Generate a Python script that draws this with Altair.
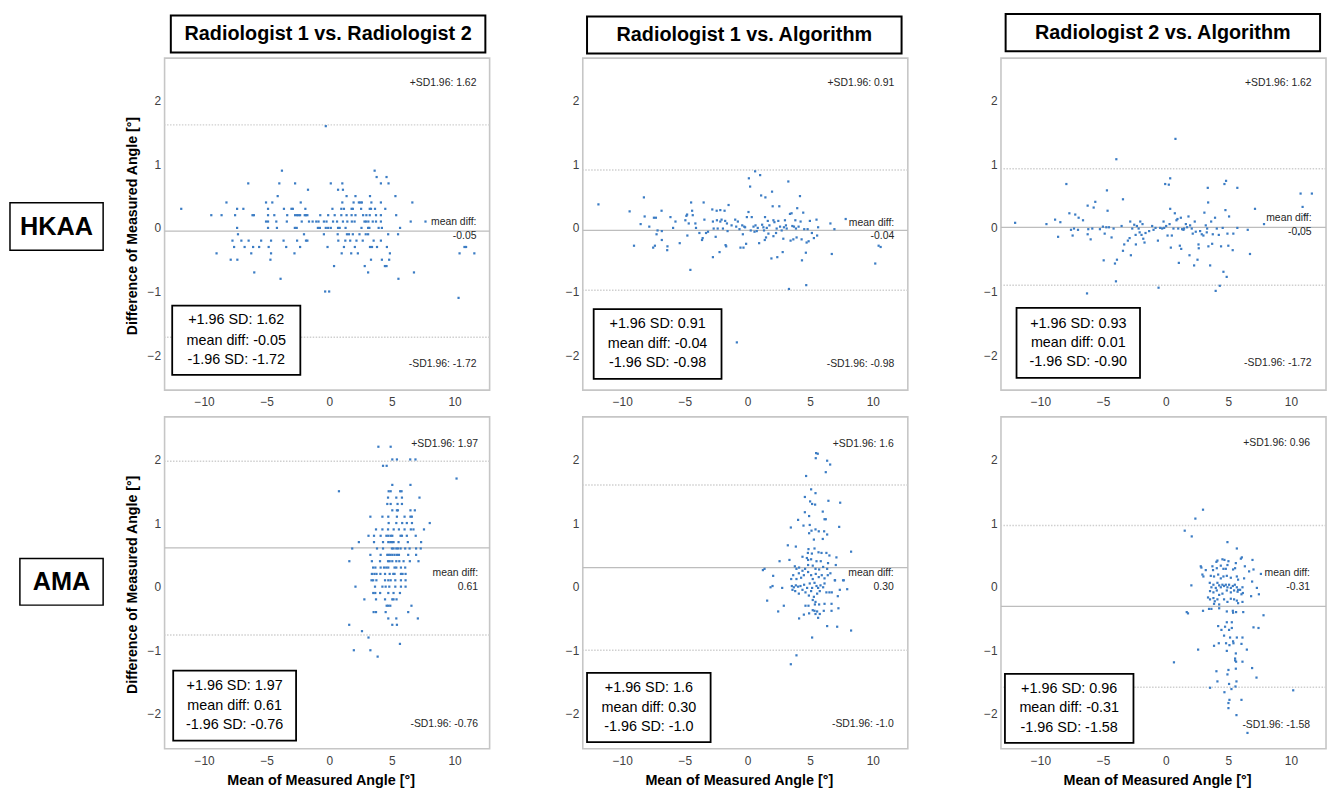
import altair as alt
import pandas as pd

# ------------------------------------------------------------------ values
col_titles = ["Radiologist 1 vs. Radiologist 2", "Radiologist 1 vs. Algorithm", "Radiologist 2 vs. Algorithm"]
row_titles = ["HKAA", "AMA"]
x_title = "Mean of Measured Angle [°]"
y_title = "Difference of Measured Angle [°]"
x_ticks = [-10, -5, 0, 5, 10]
y_ticks = [-2, -1, 0, 1, 2]

# reference lines (upper LoA, mean, lower LoA) as drawn
hkaa_lines = [[1.62, -0.05, -1.72], [0.91, -0.04, -0.98], [0.93, 0.01, -0.90]]
ama_lines = [[1.97, 0.61, -0.76], [1.6, 0.30, -1.0], [0.96, -0.31, -1.58]]

# small texts at the right side: upper, mean value, lower
hkaa_side = [["+SD1.96: 1.62", "-0.05", "-SD1.96: -1.72"],
             ["+SD1.96: 0.91", "-0.04", "-SD1.96: -0.98"],
             ["+SD1.96: 1.62", "-0.05", "-SD1.96: -1.72"]]
ama_side = [["+SD1.96: 1.97", "0.61", "-SD1.96: -0.76"],
            ["+SD1.96: 1.6", "0.30", "-SD1.96: -1.0"],
            ["+SD1.96: 0.96", "-0.31", "-SD1.96: -1.58"]]

# boxed summaries
hkaa_box = [["+1.96 SD: 1.62", "mean diff: -0.05", "-1.96 SD: -1.72"],
            ["+1.96 SD: 0.91", "mean diff: -0.04", "-1.96 SD: -0.98"],
            ["+1.96 SD: 0.93", "mean diff: 0.01", "-1.96 SD: -0.90"]]
ama_box = [["+1.96 SD: 1.97", "mean diff: 0.61", "-1.96 SD: -0.76"],
           ["+1.96 SD: 1.6", "mean diff: 0.30", "-1.96 SD: -1.0"],
           ["+1.96 SD: 0.96", "mean diff: -0.31", "-1.96 SD: -1.58"]]

# HKAA, radiologist 1 vs radiologist 2 : difference -> list of means
hkaa_r1_r2 = {
    1.6: [-0.28],
    0.9: [3.62, -3.78],
    0.8: [3.78, 4.57],
    0.7: [-6.47, -3.99, -2.73, 0.12, 1.04, 4.12, 4.73],
    0.6: [-1.70, 0.70, 1.09],
    0.5: [-4.12, 1.38, 2.09, 3.25, 5.28],
    0.4: [-8.21, -5.05, -4.55, -2.28, 1.04, 1.94, 2.36, 2.49, 2.60, 3.36, 4.12, 6.63],
    0.3: [-11.82, -7.36, -6.86, -4.89, -3.62, -3.02, -2.91, -1.91, 0.25, 0.96, 1.17, 1.78, 1.88, 2.54, 3.23, 3.33, 3.65, 4.47],
    0.2: [-9.42, -8.60, -7.52, -6.13, -6.02, -4.89, -4.39, -3.36, -2.73, -2.57, -2.46, -2.33, -1.96, -1.86, -1.75, -0.72, -0.09, 0.43, 0.96, 1.38, 1.78, 2.09, 2.70, 2.96, 3.23, 3.73, 4.12, 5.34],
    0.1: [-5.05, -4.89, -4.23, -3.39, -2.20, -1.62, -1.33, -1.04, -0.86, -0.43, -0.22, 0.30, 0.62, 1.09, 1.44, 1.80, 2.02, 2.81, 2.94, 3.12, 3.47, 3.73, 4.12, 6.50, 7.68],
    0.0: [-7.36, -4.89, -4.18, -2.75, -2.60, -0.91, -0.75, -0.28, -0.09, 0.12, 0.70, 0.83, 1.30, 2.57, 3.10, 3.20, 3.94, 4.20, 5.65],
    -0.1: [-7.29, -2.02, -0.43, 0.67, 1.41, 1.57, 1.88, 2.41, 2.91, 3.10, 4.70, 5.49],
    -0.2: [-7.73, -7.02, -6.44, -5.44, -4.65, -3.65, -2.57, -1.86, -1.75, 0.72, 1.28, 1.67, 2.17, 2.67, 3.54, 4.12],
    -0.3: [-7.60, -6.76, -6.08, -5.60, -4.84, -3.44, -2.33, -0.14, 1.17, 2.04, 3.25, 3.41, 3.81, 4.60, 10.79, 10.92],
    -0.4: [-9.00, -6.23, -4.65, -2.78, 0.99, 1.75, 2.28, 4.84, 10.40, 11.58],
    -0.5: [-7.87, -7.34, -4.70, 3.33, 4.20, 4.78],
    -0.6: [0.38, 2.83, 4.44, 4.57],
    -0.7: [-5.99, 3.10, 6.76],
    -0.8: [-3.89, 5.52],
    -1.0: [-0.33, -0.01],
    -1.1: [10.32],
}

# HKAA, radiologist 1 vs algorithm : (mean, difference)
hkaa_r1_alg = [
    (-11.90, 0.37), (-9.41, 0.26), (-9.06, -0.28), (-8.53, 0.06), (-8.27, 0.48), (-8.21, 0.18), (-7.84, 0.02),
    (-7.53, -0.31), (-7.47, 0.16), (-7.39, -0.28), (-7.31, 0.16), (-7.26, -0.10), (-7.18, -0.04), (-6.84, -0.05),
    (-6.84, -0.19), (-6.86, 0.27), (-6.41, -0.35), (-6.39, -0.29), (-6.15, 0.17), (-5.94, 0.00), (-5.75, 0.10),
    (-5.41, -0.24), (-4.96, 0.12), (-4.88, 0.19), (-4.82, 0.21), (-4.80, -0.12), (-4.69, 0.07), (-4.56, -0.66),
    (-4.50, 0.40), (-4.42, 0.27), (-4.37, 0.20), (-4.16, 0.07), (-4.11, 0.00), (-3.84, -0.08), (-3.63, -0.19),
    (-3.58, -0.16), (-3.50, 0.40), (-3.44, 0.13), (-3.31, -0.08), (-3.15, -0.06), (-2.81, 0.29), (-2.76, -0.46),
    (-2.76, 0.10), (-2.70, -0.01), (-2.54, -0.14), (-2.46, 0.27), (-2.44, 0.12), (-2.38, -0.01), (-2.23, -0.38),
    (-2.17, 0.28), (-2.17, 0.10), (-2.07, 0.13), (-1.96, -0.01), (-1.83, 0.27), (-1.78, 0.11), (-1.75, -0.27),
    (-1.70, -0.29), (-1.64, 0.07), (-1.59, -0.05), (-1.51, 0.36), (-1.27, 0.04), (-0.98, 0.13), (-0.90, 0.02),
    (-0.77, 0.10), (-0.64, -0.02), (-0.56, -0.31), (-0.42, 0.04), (-0.37, -0.10), (-0.32, -0.31), (-0.26, 0.02),
    (-0.19, 0.01), (-0.11, -0.25), (-0.05, 0.17), (0.08, 0.25), (0.11, 0.78), (0.21, 0.65), (0.26, -0.04),
    (0.34, 0.17), (0.48, 0.02), (0.56, -0.06), (0.61, 0.89), (0.64, 0.04), (0.74, -0.05), (0.82, 0.00),
    (0.93, -0.24), (1.01, 0.83), (1.09, 0.51), (1.17, 0.05), (1.27, 0.01), (1.32, -0.04), (1.38, -0.19),
    (1.40, 0.17), (1.43, 0.48), (1.48, -0.15), (1.54, 0.00), (1.62, 0.11), (1.67, -0.09), (1.75, 0.04),
    (1.91, -0.48), (1.96, 0.57), (2.01, 0.34), (2.07, -0.13), (2.07, 0.12), (2.15, 0.09), (2.28, -0.08),
    (2.33, -0.01), (2.38, -0.46), (2.46, 0.11), (2.54, 0.34), (2.60, 0.02), (2.73, -0.04), (2.81, -0.38),
    (2.86, -0.17), (2.91, 0.01), (2.99, 0.12), (3.07, 0.04), (3.13, -0.01), (3.26, 0.73), (3.31, -0.96),
    (3.39, 0.22), (3.44, -0.20), (3.52, 0.23), (3.58, 0.03), (3.66, -0.18), (3.71, 0.02), (3.82, 0.12),
    (3.87, -0.01), (3.92, -0.15), (3.97, 0.31), (4.08, 0.02), (4.19, 0.50), (4.24, 0.10), (4.32, -0.18),
    (4.35, -0.51), (4.45, 0.24), (4.53, -0.02), (4.66, -0.39), (4.69, -0.90), (4.72, -0.23), (4.80, -0.02),
    (4.88, -0.21), (4.98, 0.11), (5.14, -0.08), (5.30, -0.16), (5.51, 0.13), (5.56, -0.12), (5.64, 0.01),
    (6.62, 0.07), (6.73, -0.41), (6.94, -0.02), (7.84, 0.14), (10.20, -0.56), (10.47, -0.28), (10.63, -0.30),
    (-0.85, -1.80),
]

# HKAA, radiologist 2 vs algorithm : (mean, difference)
hkaa_r2_alg = [
    (-12.02, 0.08), (-9.52, 0.06), (-8.83, 0.13), (-8.59, -0.14), (-8.41, 0.09), (-7.93, 0.69), (-7.69, 0.23),
    (-7.56, -0.03), (-7.43, -0.12), (-7.32, -0.01), (-7.22, 0.21), (-7.00, -0.03), (-6.95, 0.16), (-6.60, 0.12),
    (-6.23, 0.35), (-6.23, -0.10), (-6.18, -0.02), (-5.99, -0.18), (-5.86, -0.01), (-5.75, 0.32), (-5.62, 0.41),
    (-5.25, -0.02), (-5.01, 0.02), (-4.95, -0.51), (-4.87, -0.09), (-4.74, 0.01), (-4.69, 0.59), (-4.64, 0.27),
    (-4.53, 0.01), (-4.32, -0.15), (-4.16, -0.01), (-4.05, -0.56), (-3.97, -0.84), (-3.89, -0.50), (-3.94, 1.08),
    (-3.52, 0.03), (-3.41, 0.45), (-3.41, -0.36), (-3.31, -0.26), (-3.02, -0.20), (-2.88, -0.16), (-2.83, 0.10),
    (-2.78, -0.43), (-2.67, -0.01), (-2.51, 0.05), (-2.40, -0.11), (-2.38, -0.26), (-2.30, 0.03), (-2.16, -0.01),
    (-2.08, -0.07), (-2.03, 0.10), (-1.93, -0.11), (-1.85, 0.06), (-1.79, -0.17), (-1.69, -0.23), (-1.61, -0.08),
    (-1.32, -0.05), (-1.08, 0.03), (-0.97, -0.03), (-0.81, 0.00), (-0.62, -0.20), (-0.57, -0.94), (-0.44, 0.00),
    (-0.28, -0.01), (-0.17, 0.10), (-0.12, 0.00), (-0.04, 0.69), (0.04, 0.03), (0.15, -0.12), (0.25, 0.68),
    (0.31, 0.06), (0.36, 0.78), (0.36, 0.30), (0.41, -0.31), (0.49, -0.12), (0.62, -0.01), (0.73, 0.23),
    (0.78, 1.40), (0.86, 0.12), (0.94, 0.14), (1.00, -0.01), (1.05, -0.55), (1.13, -0.28), (1.21, 0.16),
    (1.24, -0.33), (1.31, -0.02), (1.42, -0.03), (1.47, -0.01), (1.61, 0.06), (1.71, 0.01), (1.82, 0.18),
    (1.90, -0.43), (1.95, 0.04), (2.08, -0.01), (2.16, -0.09), (2.27, -0.59), (2.32, 0.10), (2.40, -0.06),
    (2.54, -0.50), (2.62, -0.26), (2.64, -0.32), (2.75, -0.05), (2.88, -0.10), (3.01, -0.12), (3.09, 0.24),
    (3.20, 0.04), (3.28, -0.07), (3.31, -0.01), (3.36, 0.63), (3.39, 0.40), (3.41, -0.29), (3.55, -0.59),
    (3.63, 0.10), (3.71, -0.25), (3.76, -0.10), (3.94, 0.16), (3.99, -0.99), (4.08, -0.01), (4.24, -0.11),
    (4.32, -0.91), (4.42, -0.29), (4.55, 0.00), (4.61, -0.69), (4.69, 0.69), (4.77, 0.28), (4.82, 0.74),
    (4.87, -0.77), (4.93, -0.09), (5.00, -0.28), (5.06, 0.18), (5.35, -0.35), (5.40, -0.09), (5.72, 0.63),
    (5.72, 0.00), (6.55, -0.03), (6.73, -0.41), (7.13, 0.30), (7.85, 0.06), (10.77, 0.54), (10.93, 0.33),
    (11.09, 0.20), (11.67, 0.54), (-6.28, -1.03), (10.64, -0.10),
]

# AMA, radiologist 1 vs radiologist 2 : difference -> list of means
ama_r1_r2 = {
    2.2: [3.92, 4.90],
    2.0: [5.03, 5.40, 6.46, 6.88],
    1.9: [4.29, 4.58],
    1.7: [10.16],
    1.6: [5.03, 6.48],
    1.5: [0.77, 4.74, 4.90, 5.66, 5.77],
    1.4: [4.69, 5.35, 5.80, 7.20],
    1.3: [4.63, 4.90, 5.45, 5.80],
    1.2: [5.03, 5.40, 5.48, 6.48, 6.83],
    1.1: [3.28, 4.24, 4.71, 5.40, 6.01, 6.48, 6.59],
    1.0: [4.74, 5.35, 5.82, 6.19, 6.60, 8.02],
    0.9: [3.73, 4.24, 4.69, 5.14, 5.56, 6.01, 6.51, 6.72, 7.56],
    0.8: [3.13, 3.57, 4.10, 4.56, 4.71, 4.90, 5.03, 5.69, 5.80, 6.19, 6.90],
    0.7: [2.36, 3.57, 4.29, 4.71, 4.87, 5.00, 5.13, 5.53, 6.27, 7.33],
    0.6: [1.83, 3.81, 4.29, 5.00, 5.13, 5.35, 5.48, 5.69, 6.06, 6.41, 6.93, 7.30],
    0.5: [3.28, 4.10, 4.63, 4.74, 4.87, 5.03, 5.21, 5.40, 5.56, 6.30, 6.93],
    0.4: [1.60, 3.40, 4.05, 4.69, 4.82, 5.03, 5.35, 5.59, 5.93, 6.43, 7.12],
    0.3: [3.50, 3.68, 4.10, 4.37, 4.55, 4.71, 5.21, 5.35, 5.72, 6.06],
    0.2: [3.40, 3.60, 3.77, 4.08, 4.45, 4.82, 5.11, 5.21, 5.72, 5.85, 6.09],
    0.1: [3.37, 3.50, 3.76, 4.45, 4.71, 4.90, 5.27, 5.72, 6.09],
    0.0: [2.09, 3.65, 4.24, 4.50, 4.79, 5.27, 5.72, 6.09],
    -0.1: [3.51, 3.67, 4.06, 4.71, 5.13, 5.64],
    -0.2: [2.80, 3.73, 4.45, 5.03, 5.13, 5.37],
    -0.3: [4.58, 4.71, 4.87, 6.56],
    -0.4: [3.54, 3.73, 4.50, 6.30],
    -0.5: [4.71, 5.35, 7.07],
    -0.6: [1.59, 5.03, 5.40],
    -0.7: [2.61],
    -0.8: [3.13],
    -0.9: [5.64],
    -1.0: [1.96, 3.28],
    -1.1: [3.86],
}

# AMA, radiologist 1 vs algorithm : (mean, difference)
ama_r1_alg = [
    (5.48, 2.10), (5.61, 2.09), (5.45, 2.02), (6.36, 1.98), (6.60, 1.92), (6.25, 1.80), (4.68, 1.74),
    (5.08, 1.53), (5.43, 1.47), (4.58, 1.41), (5.00, 1.34), (5.16, 1.30), (5.40, 1.29), (6.46, 1.35),
    (7.40, 1.32), (4.58, 1.17), (4.04, 1.05), (4.92, 1.11), (6.01, 1.18), (6.15, 1.06), (6.25, 1.06),
    (3.46, 0.93), (4.47, 0.96), (4.97, 0.97), (5.11, 0.88), (4.92, 0.84), (5.43, 0.90), (5.69, 0.87),
    (6.12, 0.87), (6.36, 0.82), (6.01, 0.75), (5.30, 0.74), (7.32, 0.94), (3.22, 0.65), (3.86, 0.63),
    (4.87, 0.59), (5.35, 0.60), (4.82, 0.53), (5.14, 0.52), (5.67, 0.54), (5.91, 0.53), (6.30, 0.53),
    (6.54, 0.49), (7.10, 0.46), (8.27, 0.55), (2.56, 0.40), (3.35, 0.42), (4.39, 0.47), (4.74, 0.45),
    (4.84, 0.42), (5.08, 0.43), (5.51, 0.40), (5.85, 0.40), (6.43, 0.37), (7.05, 0.34), (1.36, 0.28),
    (1.23, 0.26), (2.05, 0.17), (3.78, 0.32), (3.91, 0.28), (4.12, 0.30), (4.39, 0.25), (4.60, 0.28),
    (4.84, 0.34), (5.21, 0.33), (5.43, 0.28), (5.72, 0.27), (6.04, 0.31), (6.36, 0.28), (6.62, 0.21),
    (6.99, 0.10), (7.63, 0.10), (1.84, -0.01), (2.00, 0.01), (2.77, -0.02), (1.57, -0.22), (2.90, -0.30),
    (2.45, -0.39), (3.49, 0.12), (3.65, 0.18), (3.91, 0.12), (4.10, 0.21), (4.28, 0.14), (4.50, 0.18),
    (4.84, 0.23), (5.08, 0.18), (5.21, 0.12), (5.45, 0.20), (5.69, 0.15), (5.93, 0.18), (6.15, 0.13),
    (6.41, 0.18), (3.54, 0.01), (3.70, -0.01), (3.86, 0.02), (4.04, 0.00), (4.23, 0.01), (4.52, 0.03),
    (4.76, -0.02), (4.97, 0.05), (5.16, -0.02), (5.35, 0.06), (5.51, 0.01), (5.64, -0.02), (5.83, 0.02),
    (6.04, -0.01), (6.15, 0.05), (3.59, -0.05), (3.81, -0.07), (4.10, -0.11), (4.39, -0.05), (4.63, -0.09),
    (4.90, -0.14), (5.08, -0.07), (5.30, -0.16), (5.56, -0.11), (5.77, -0.07), (6.30, -0.09), (6.54, -0.09),
    (6.73, -0.09), (6.97, 0.10), (7.37, -0.05), (7.69, 0.10), (7.96, -0.04), (7.21, -0.15), (5.21, -0.21),
    (5.43, -0.24), (5.38, -0.28), (4.87, -0.30), (5.72, -0.28), (6.15, -0.27), (6.71, -0.27), (4.92, -0.42),
    (5.21, -0.37), (5.56, -0.39), (6.09, -0.38), (4.50, -0.44), (4.63, -0.30), (4.12, -0.50), (5.35, -0.38),
    (5.43, -0.43), (5.64, -0.49), (5.77, -0.43), (6.71, -0.38), (7.26, -0.34), (6.36, -0.62), (7.16, -0.63),
    (8.27, -0.69), (5.16, -0.80), (3.91, -1.08), (3.46, -1.22),
]

# AMA, radiologist 2 vs algorithm : (mean, difference)
ama_r2_alg = [
    (2.98, 1.21), (2.37, 1.07), (1.52, 0.88), (2.08, 0.79), (4.93, 0.70), (5.68, 0.60), (4.13, 0.41),
    (4.05, 0.39), (4.53, 0.43), (4.69, 0.42), (5.01, 0.40), (6.00, 0.44), (6.08, 0.46), (6.93, 0.42),
    (2.80, 0.32), (2.85, 0.30), (3.20, 0.26), (3.73, 0.32), (3.78, 0.26), (4.08, 0.29), (4.40, 0.33),
    (4.61, 0.28), (4.80, 0.28), (4.93, 0.34), (5.38, 0.27), (5.54, 0.29), (5.60, 0.37), (6.32, 0.32),
    (6.66, 0.24), (7.01, 0.27), (2.93, 0.19), (3.01, 0.16), (3.60, 0.17), (3.86, 0.16), (4.19, 0.19),
    (4.40, 0.13), (4.61, 0.16), (4.88, 0.17), (5.20, 0.14), (5.68, 0.16), (5.78, 0.11), (6.26, 0.13),
    (6.90, 0.08), (7.60, 0.20), (2.05, 0.02), (3.52, 0.06), (3.65, -0.01), (3.81, 0.03), (4.00, -0.02),
    (4.13, 0.06), (4.27, 0.02), (4.40, -0.01), (4.53, 0.03), (4.66, 0.01), (4.80, 0.03), (4.93, -0.01),
    (5.06, 0.03), (5.20, -0.02), (5.36, 0.01), (5.52, 0.03), (5.68, -0.01), (5.78, -0.05), (6.13, -0.01),
    (6.16, -0.10), (7.28, -0.02), (3.54, -0.07), (3.81, -0.09), (4.08, -0.06), (4.27, -0.13), (4.53, -0.11),
    (4.88, -0.06), (5.20, -0.09), (5.46, -0.06), (5.74, -0.08), (5.94, -0.05), (6.05, -0.12), (6.82, -0.15),
    (7.44, -0.12), (3.38, -0.17), (3.54, -0.20), (3.81, -0.18), (3.92, -0.23), (4.13, -0.20), (4.66, -0.20),
    (5.20, -0.19), (5.46, -0.20), (5.68, -0.22), (5.78, -0.26), (6.13, -0.24), (3.86, -0.27), (4.27, -0.28),
    (4.93, -0.24), (1.68, -0.40), (1.78, -0.42), (2.98, -0.38), (3.46, -0.35), (3.65, -0.35), (4.27, -0.34),
    (4.88, -0.39), (5.36, -0.38), (5.38, -0.41), (5.62, -0.40), (6.19, -0.40), (7.81, -0.45), (4.88, -0.56),
    (5.28, -0.56), (4.19, -0.62), (4.45, -0.68), (4.74, -0.63), (4.66, -0.77), (5.28, -0.65), (5.06, -0.68),
    (7.01, -0.64), (7.41, -0.65), (5.14, -0.80), (5.38, -0.86), (5.68, -0.80), (6.13, -0.80), (3.86, -0.93),
    (4.24, -0.89), (4.82, -0.89), (5.09, -0.92), (5.41, -0.89), (6.05, -0.90), (2.59, -0.99), (4.88, -1.01),
    (5.60, -1.05), (6.48, -0.99), (5.54, -1.13), (5.54, -1.16), (5.62, -1.18), (6.13, -1.18), (0.66, -1.19),
    (4.05, -1.33), (5.01, -1.31), (5.60, -1.29), (6.90, -1.28), (4.93, -1.38), (7.25, -1.43), (4.13, -1.49),
    (5.06, -1.53), (5.65, -1.49), (3.54, -1.59), (4.69, -1.66), (5.25, -1.61), (5.57, -1.57), (10.18, -1.63),
    (5.09, -1.78), (5.01, -1.83), (5.01, -1.91), (6.05, -1.78), (5.65, -2.02), (6.53, -2.30),
]


def rows_to_pairs(rows):
    return [(m, d) for d, means in rows.items() for m in means]


points = [[rows_to_pairs(hkaa_r1_r2), hkaa_r1_alg, hkaa_r2_alg],
          [rows_to_pairs(ama_r1_r2), ama_r1_alg, ama_r2_alg]]
lines = [hkaa_lines, ama_lines]
side = [hkaa_side, ama_side]
boxes = [hkaa_box, ama_box]

# ------------------------------------------------------------------ layout (pixels inside each panel)
W, H = 328, 335
XDOM = [-13.15, 12.8]
YDOM = [-2.55, 2.67]
FONT = "Liberation Sans"
DOT = "#3b7cc4"

LAYOUT = [
    [dict(sx=314.7, sy=[24.7, 165.3, 179.3, 308.7], box=[7.7, 137, 249.7, 319.7], bl=[264.7, 285, 304.7], bc=72.3,
          head=[6.3, 323.7, -43, -5.7], hc=[165, -24.3], lab=[-156, -62, 146, 194], lc=[-109, 170.5]),
     dict(sx=314.3, sy=[25.5, 166, 180, 309], box=[11, 140, 253.3, 323.7], bl=[268.7, 288.7, 308], bc=75.5,
          head=[4.3, 321.7, -42, -4.7], hc=[163, -23.3]),
     dict(sx=313.5, sy=[24.7, 161.3, 175.7, 308], box=[15.7, 140.3, 252, 322.7], bl=[268, 287.7, 307], bc=78,
          head=[4.7, 322, -44.5, -7], hc=[163.3, -25.7])],
    [dict(sx=316.3, sy=[27.3, 157.7, 171.7, 310], box=[8.7, 132.7, 256, 326.7], bl=[271.7, 291.7, 311], bc=70.7,
          lab=[-146, -62, 143, 190], lc=[-104, 167]),
     dict(sx=313.8, sy=[27, 157.7, 171.7, 310], box=[4.3, 129, 258.3, 328.3], bl=[274, 294, 313.3], bc=66.7),
     dict(sx=311.8, sy=[26.5, 157.7, 171.7, 310.7], box=[4, 133.7, 259.3, 329], bl=[275, 294.3, 314.3], bc=68.8)],
]

DUMMY = pd.DataFrame({"d": [0]})


def text_layer(txt, px, py, size, weight="normal", align="center", color="#000000"):
    return alt.Chart(DUMMY).mark_text(font=FONT, fontSize=size, fontWeight=weight, align=align,
                                      baseline="middle", color=color).encode(
        x=alt.value(px), y=alt.value(py), text=alt.value(txt))


def rect_layer(r, sw):
    return alt.Chart(DUMMY).mark_rect(fill="white", stroke="black", strokeWidth=sw).encode(
        x=alt.value(r[0]), x2=alt.value(r[1]), y=alt.value(r[2]), y2=alt.value(r[3]))


def make_panel(r, c):
    L = LAYOUT[r][c]
    xscale = alt.Scale(domain=XDOM, nice=False, zero=False)
    yscale = alt.Scale(domain=YDOM, nice=False, zero=False)
    xaxis_kw = dict(values=x_ticks, ticks=False, domain=False, grid=False, labelFont=FONT, labelFontSize=12,
                    labelColor="#404040", labelPadding=6.5)
    if r == 1:
        xaxis = alt.Axis(title=x_title, titleFont=FONT, titleFontSize=14.5, titleFontWeight="bold",
                         titleColor="#000000", titleX=157.5, titleY=35.5, titleBaseline="alphabetic",
                         titleAlign="center", **xaxis_kw)
    else:
        xaxis = alt.Axis(title=None, **xaxis_kw)
    yaxis_kw = dict(values=y_ticks, ticks=False, domain=False, grid=False, labelFont=FONT, labelFontSize=12,
                    labelColor="#404040", labelPadding=4)
    if c == 0:
        yaxis = alt.Axis(title=y_title, titleFont=FONT, titleFontSize=14.3, titleFontWeight="bold",
                         titleColor="#000000", titleX=-32, titleY=169, titleAngle=270,
                         titleBaseline="middle", titleAlign="center", **yaxis_kw)
    else:
        yaxis = alt.Axis(title=None, **yaxis_kw)

    up, mean, low = lines[r][c]
    sd_df = pd.DataFrame({"y": [up, low]})
    mean_df = pd.DataFrame({"y": [mean]})
    pts = pd.DataFrame(points[r][c], columns=["x", "y"])

    sd_rule = alt.Chart(sd_df).mark_rule(color="#cfcfcf", strokeWidth=1.5, strokeDash=[1.5, 1.5]).encode(
        y=alt.Y("y:Q", scale=yscale, axis=yaxis))
    mean_rule = alt.Chart(mean_df).mark_rule(color="#bdbdbd", strokeWidth=1.3).encode(
        y=alt.Y("y:Q", scale=yscale, axis=yaxis))
    dots = alt.Chart(pts).mark_square(size=5, color=DOT, opacity=1).encode(
        x=alt.X("x:Q", scale=xscale, axis=xaxis),
        y=alt.Y("y:Q", scale=yscale, axis=yaxis))

    layers = [sd_rule, mean_rule, dots]
    s = side[r][c]
    sx, sy = L["sx"], L["sy"]
    layers.append(text_layer(s[0], sx, sy[0], 10.5, align="right", color="#262626"))
    layers.append(text_layer("mean diff:", sx, sy[1], 10.5, align="right", color="#262626"))
    layers.append(text_layer(s[1], sx, sy[2], 10.5, align="right", color="#262626"))
    layers.append(text_layer(s[2], sx, sy[3], 10.5, align="right", color="#262626"))

    layers.append(rect_layer(L["box"], 1.8))
    for t, ly in zip(boxes[r][c], L["bl"]):
        layers.append(text_layer(t, L["bc"], ly, 14.5))

    if "head" in L:
        layers.append(rect_layer(L["head"], 2))
        layers.append(text_layer(col_titles[c], L["hc"][0], L["hc"][1], 20, weight="bold"))
    if "lab" in L:
        layers.append(rect_layer(L["lab"], 1.5))
        layers.append(text_layer(row_titles[r], L["lc"][0], L["lc"][1], 25.5, weight="bold"))

    return alt.layer(*layers).properties(width=W, height=H)


panels = [make_panel(r, c) for r in range(2) for c in range(3)]

chart = alt.concat(*panels, columns=3, spacing={"row": 27, "column": 94}, bounds="flush").properties(
    padding={"left": 0, "top": 0, "right": 0, "bottom": 0}
).configure_view(stroke="#c6c6c6", strokeWidth=1.6)

chart.save("out.html", embed_options={"renderer": "svg", "actions": False})
